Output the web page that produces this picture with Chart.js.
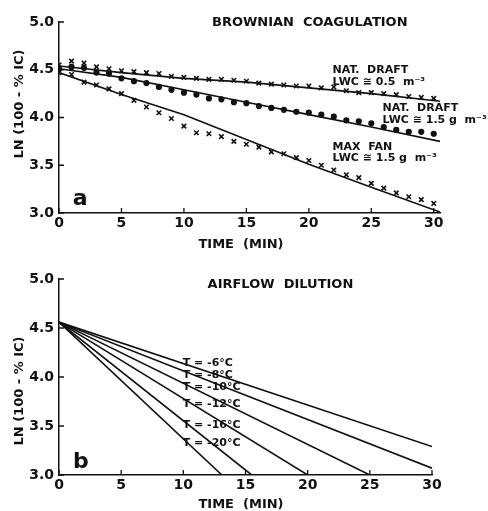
<!DOCTYPE html>
<html>
<head>
<meta charset="utf-8">
<script src="https://cdn.jsdelivr.net/npm/chart.js@4"></script>
<style>
  body { margin: 0; background: #fff; }
  canvas { position: absolute; left: 0; }
  #top { top: 0; }
  #bottom { top: 250px; }
</style>
</head>
<body>
<canvas id="top" width="488" height="250"></canvas>
<canvas id="bottom" width="488" height="261"></canvas>
<script>
// ---- panel a: brownian coagulation ----
const minutes = [0,1,2,3,4,5,6,7,8,9,10,11,12,13,14,15,16,17,18,19,20,21,22,23,24,25,26,27,28,29,30]
const natDraft05 = [4.55,4.59,4.57,4.53,4.51,4.49,4.48,4.47,4.46,4.43,4.42,4.41,4.40,4.40,4.39,4.38,4.36,4.35,4.34,4.33,4.33,4.31,4.32,4.28,4.26,4.26,4.25,4.24,4.22,4.21,4.20]
const natDraft15 = [4.51,4.53,4.52,4.47,4.46,4.41,4.38,4.36,4.32,4.29,4.26,4.24,4.20,4.19,4.16,4.15,4.12,4.10,4.08,4.06,4.05,4.03,4.01,3.97,3.96,3.94,3.90,3.87,3.85,3.85,3.83]
const maxFan = [4.47,4.45,4.37,4.34,4.30,4.25,4.18,4.11,4.05,3.99,3.91,3.84,3.83,3.80,3.75,3.72,3.69,3.64,3.62,3.58,3.55,3.50,3.45,3.40,3.37,3.31,3.26,3.21,3.17,3.14,3.10]
const fitTimes = [0,5,10,15,20,25,30.5]
const fitNat05 = [4.54,4.47,4.41,4.37,4.31,4.25,4.17]
const fitNat15 = [4.51,4.42,4.29,4.16,4.03,3.90,3.75]
const fitMaxFan = [4.47,4.24,4.03,3.77,3.51,3.27,3.01]

// ---- panel b: airflow dilution ----
const tempLabels = ['-6','-8','-10','-12','-16','-20']
const dilutionStart = 4.56
const dilutionEndTime = [30,30,25,20,15.5,13.1]
const dilutionEndValue = [3.29,3.07,3.0,3.0,3.0,3.0]
const tempLabelY = [4.14,4.02,3.90,3.72,3.51,3.33]

const xTicks = [0,5,10,15,20,25,30]
const yTicks = [3.0,3.5,4.0,4.5,5.0]

const FONT = 'DejaVu Sans'

function pts(xs, ys) {
  return xs.map((x, i) => ({ x: x, y: ys[i] }))
}

// inward ticks + annotation text, placed through the chart scales
const decor = {
  id: 'decor',
  afterDraw(chart, args, opts) {
    const ctx = chart.ctx
    const xs = chart.scales.x, ys = chart.scales.y
    const area = chart.chartArea
    ctx.save()
    ctx.strokeStyle = '#111'
    ctx.lineWidth = 1.3
    ctx.beginPath()
    yTicks.forEach(v => {
      const py = ys.getPixelForValue(v)
      ctx.moveTo(area.left, py); ctx.lineTo(area.left + 5, py)
    })
    xTicks.forEach(v => {
      const px = xs.getPixelForValue(v)
      ctx.moveTo(px, area.bottom); ctx.lineTo(px, area.bottom - 5)
    })
    ctx.stroke()
    ctx.fillStyle = '#111'
    ctx.textBaseline = 'middle'
    opts.texts.forEach(t => {
      ctx.font = t.font
      ctx.textAlign = t.align || 'left'
      ctx.fillText(t.text, xs.getPixelForValue(t.x), ys.getPixelForValue(t.y))
    })
    // axis titles
    ctx.font = 'bold 13px ' + FONT
    ctx.textAlign = 'center'
    ctx.fillText('TIME  (MIN)', 241, chart.height - opts.xTitleGap)
    ctx.save()
    ctx.translate(20, opts.yTitleY)
    ctx.rotate(-Math.PI / 2)
    ctx.fillText('LN (100 - % IC)', 0, 0)
    ctx.restore()
    ctx.restore()
  }
}

function baseOptions(xmax, pad, xHeight, texts, xTitleGap, yTitleY) {
  return {
    responsive: false,
    animation: false,
    devicePixelRatio: 1,
    layout: { padding: pad },
    plugins: {
      legend: { display: false },
      tooltip: { enabled: false },
      decor: { texts: texts, xTitleGap: xTitleGap, yTitleY: yTitleY }
    },
    scales: {
      x: {
        type: 'linear', min: 0, max: xmax,
        afterFit: s => { s.height = xHeight },
        afterBuildTicks: s => { s.ticks = xTicks.map(v => ({ value: v })) },
        grid: { drawOnChartArea: false, drawTicks: false },
        border: { color: '#111', width: 1.5 },
        ticks: { color: '#111', padding: 2, font: { family: FONT, size: 14, weight: 'bold' } }
      },
      y: {
        min: 3, max: 5,
        afterFit: s => { s.width = 59 },
        afterBuildTicks: s => { s.ticks = yTicks.map(v => ({ value: v })) },
        grid: { drawOnChartArea: false, drawTicks: false },
        border: { color: '#111', width: 1.5 },
        ticks: { color: '#111', padding: 5, font: { family: FONT, size: 14, weight: 'bold' },
          callback: v => v.toFixed(1) }
      }
    }
  }
}

const lineStyle = { borderColor: '#111', borderWidth: 1.6, pointRadius: 0, fill: false, showLine: true }
const markStyle = { showLine: false, borderColor: '#111', backgroundColor: '#111', borderWidth: 1.6 }

const topTexts = [
  { text: 'BROWNIAN  COAGULATION', x: 12.25, y: 4.99, font: 'bold 13px ' + FONT },
  { text: 'NAT.  DRAFT', x: 21.9, y: 4.50, font: 'bold 11px ' + FONT },
  { text: 'LWC ≅ 0.5  m⁻³', x: 21.9, y: 4.37, font: 'bold 11px ' + FONT },
  { text: 'NAT.  DRAFT', x: 25.9, y: 4.10, font: 'bold 11px ' + FONT },
  { text: 'LWC ≅ 1.5 g  m⁻³', x: 25.9, y: 3.97, font: 'bold 11px ' + FONT },
  { text: 'MAX  FAN', x: 21.9, y: 3.69, font: 'bold 11px ' + FONT },
  { text: 'LWC ≅ 1.5 g  m⁻³', x: 21.9, y: 3.57, font: 'bold 11px ' + FONT },
  { text: 'a', x: 1.7, y: 3.14, font: 'bold 22px ' + FONT, align: 'center' }
]

new Chart(document.getElementById('top'), {
  type: 'scatter',
  data: {
    datasets: [
      Object.assign({ data: pts(fitTimes, fitNat05) }, lineStyle),
      Object.assign({ data: pts(fitTimes, fitNat15) }, lineStyle),
      Object.assign({ data: pts(fitTimes, fitMaxFan) }, lineStyle),
      Object.assign({ data: pts(minutes, natDraft05), pointStyle: 'crossRot', pointRadius: 3.2 }, markStyle),
      Object.assign({ data: pts(minutes, natDraft15), pointStyle: 'circle', pointRadius: 2.3 }, markStyle),
      Object.assign({ data: pts(minutes, maxFan), pointStyle: 'crossRot', pointRadius: 3.2 }, markStyle)
    ]
  },
  options: baseOptions(30.5, { left: 0, right: 48, top: 22, bottom: 0 }, 37, topTexts, 5, 104),
  plugins: [decor]
})

const bottomTexts = [
  { text: 'AIRFLOW  DILUTION', x: 11.95, y: 4.94, font: 'bold 13px ' + FONT }
]
tempLabels.forEach((t, i) => {
  bottomTexts.push({ text: 'T = ' + t + '°C', x: 9.95, y: tempLabelY[i], font: 'bold 11px ' + FONT })
})
bottomTexts.push({ text: 'b', x: 1.76, y: 3.13, font: 'bold 22px ' + FONT, align: 'center' })

new Chart(document.getElementById('bottom'), {
  type: 'scatter',
  data: {
    datasets: tempLabels.map((t, i) => Object.assign({
      data: pts([0, dilutionEndTime[i]], [dilutionStart, dilutionEndValue[i]])
    }, lineStyle))
  },
  options: baseOptions(30, { left: 0, right: 56, top: 29, bottom: 0 }, 36, bottomTexts, 6, 141),
  plugins: [decor]
})
</script>
</body>
</html>
